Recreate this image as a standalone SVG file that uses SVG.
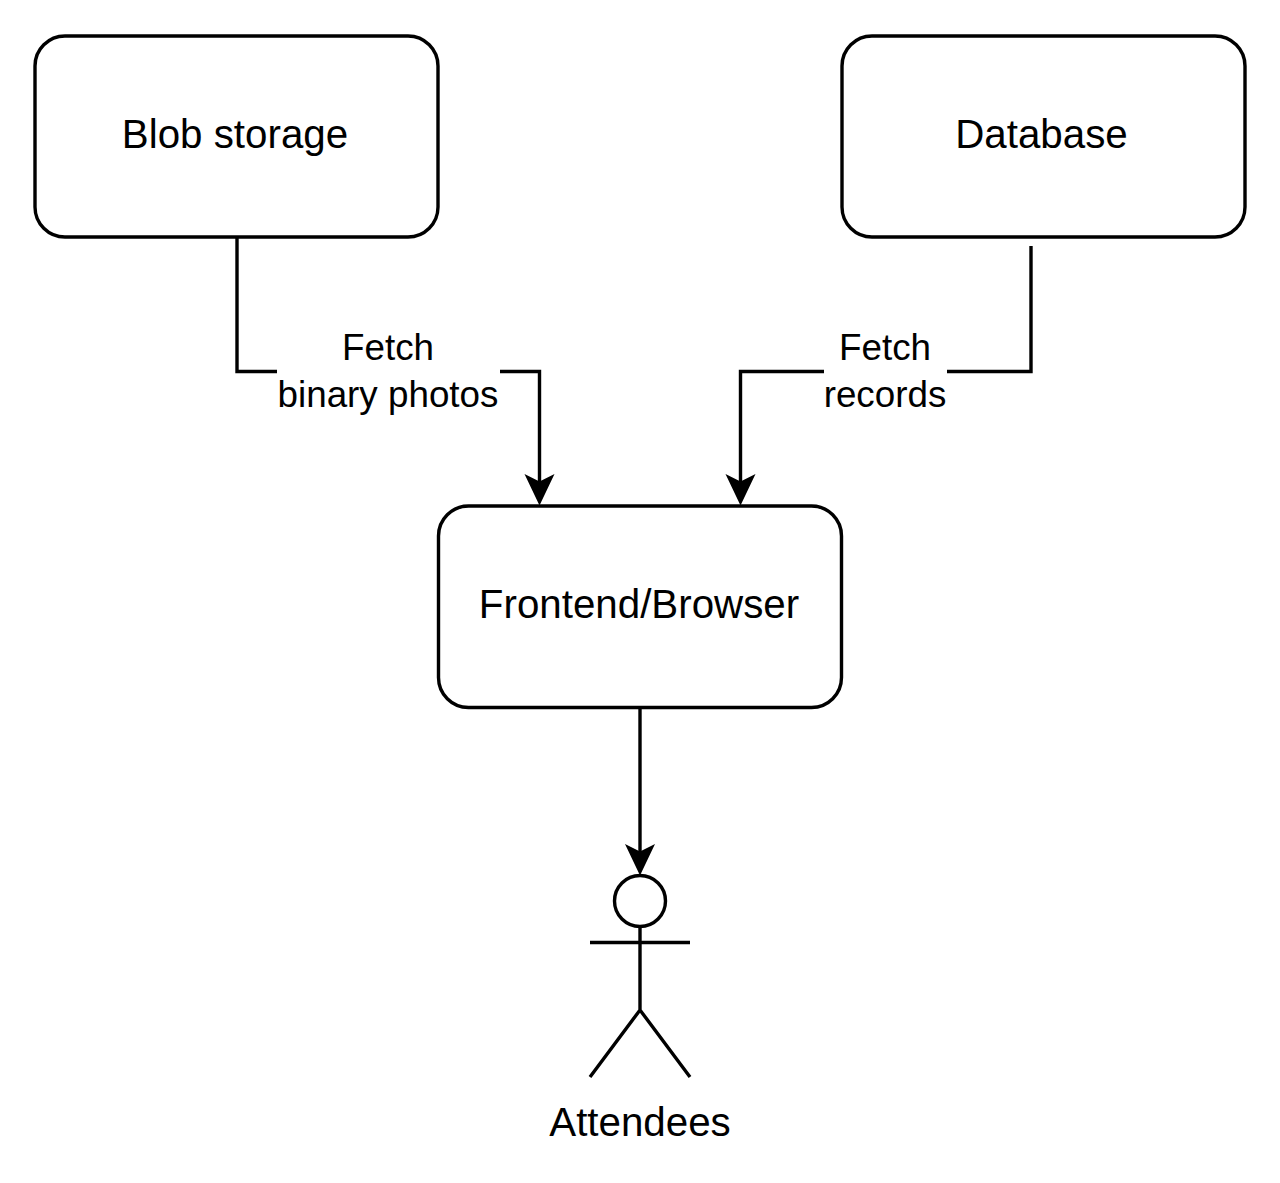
<svg xmlns="http://www.w3.org/2000/svg" width="1280" height="1183" viewBox="0 0 1280 1183">
<style>
.b{fill:#fff;stroke:#000;stroke-width:3.4}
.l{fill:none;stroke:#000;stroke-width:3.4}
.h{fill:#000}
text{font-family:"Liberation Sans",Arial,sans-serif;font-size:40.3px;fill:#000;text-anchor:middle}
text.e{font-size:36.8px}
</style>
<rect width="1280" height="1183" fill="#fff"/>
<g id="connectors">
<path class="l" d="M237 237V371.500H539.500V490"/>
<path class="l" d="M1031 246V371.500H740.500V490"/>
<path class="l" d="M640 708V860"/>
<path class="h" d="M539.500 505.500L524.500 474L539.500 481.500L554.500 474Z"/>
<path class="h" d="M740.500 505.500L725.500 474L740.500 481.500L755.500 474Z"/>
<path class="h" d="M640 875.500L625 844L640 851.500L655 844Z"/>
</g>
<g id="blob"><rect class="b" x="35" y="36" width="403" height="201" rx="30"/><text x="235" y="148">Blob storage</text></g>
<g id="database"><rect class="b" x="842" y="36" width="403" height="201" rx="30"/><text x="1041.500" y="148">Database</text></g>
<g id="frontend"><rect class="b" x="438.500" y="506" width="403" height="201.500" rx="30"/><text x="639" y="618">Frontend/Browser</text></g>
<g id="label-photos"><rect x="277" y="327" width="223" height="91" fill="#fff"/><text class="e" x="388" y="360">Fetch</text><text class="e" x="388" y="407">binary photos</text></g>
<g id="label-records"><rect x="824" y="327" width="123" height="91" fill="#fff"/><text class="e" x="885" y="360">Fetch</text><text class="e" x="885" y="407">records</text></g>
<g id="attendees">
<circle class="b" cx="640" cy="901" r="25.500"/>
<path class="l" d="M640 926.500V1010M590 942.500H690M590 1077L640 1010L690 1077"/>
<text x="640" y="1136">Attendees</text>
</g>
</svg>
